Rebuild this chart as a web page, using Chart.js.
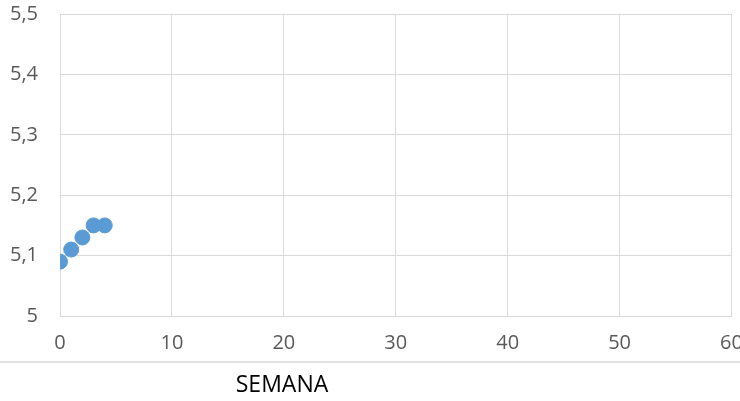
<!DOCTYPE html>
<html>
<head>
<meta charset="utf-8">
<script src="https://cdn.jsdelivr.net/npm/chart.js@4/dist/chart.umd.min.js"></script>
<style>
	html, body { margin: 0; padding: 0; background: #fff; }
	#wrap { width: 740px; height: 401px; position: relative; }
</style>
</head>
<body>
<div id="wrap"><canvas id="chart"></canvas></div>
<script>
const semanas = [0, 1, 2, 3, 4];
const valores = [5.09, 5.11, 5.13, 5.15, 5.15];
const xTicks = [0, 10, 20, 30, 40, 50, 60];
const yTicks = [5, 5.1, 5.2, 5.3, 5.4, 5.5];
const xLabel = "SEMANA";

const gridColor = "#D9D9D9";
const tickColor = "#595959";
const fontFamily = "'Open Sans', 'Liberation Sans', sans-serif";

// linea separadora y titulo del eje como en el original
const extras = {
	id: "extras",
	afterDraw(chart) {
		const ctx = chart.ctx;
		ctx.save();
		ctx.strokeStyle = gridColor;
		ctx.lineWidth = 1.5;
		ctx.beginPath();
		ctx.moveTo(0, 362);
		ctx.lineTo(740, 362);
		ctx.stroke();
		ctx.fillStyle = "#000";
		ctx.font = "23px " + fontFamily;
		ctx.textAlign = "center";
		ctx.textBaseline = "middle";
		ctx.fillText(xLabel, 282, 385);
		ctx.restore();
	}
};

new Chart(document.getElementById("chart"), {
	type: "scatter",
	data: {
		datasets: [{
			data: semanas.map((s, i) => ({ x: s, y: valores[i] })),
			backgroundColor: "#5B9BD5",
			borderColor: "#5B9BD5",
			pointRadius: 7.5,
			pointHoverRadius: 7.5
		}]
	},
	options: {
		responsive: true,
		maintainAspectRatio: false,
		animation: false,
		layout: { padding: { top: 14, right: 5, left: 0, bottom: 0 } },
		plugins: { legend: { display: false }, tooltip: { enabled: false } },
		scales: {
			x: {
				type: "linear",
				min: 0,
				max: 60,
				afterBuildTicks: scale => { scale.ticks = xTicks.map(v => ({ value: v })); },
				afterFit: scale => { scale.height = 85; scale.paddingRight = 0; scale.paddingLeft = 0; },
				grid: { color: gridColor, drawTicks: false },
				border: { color: gridColor },
				ticks: { color: tickColor, font: { size: 20, family: fontFamily }, padding: 15, maxRotation: 0 }
			},
			y: {
				min: 5,
				max: 5.5,
				afterBuildTicks: scale => { scale.ticks = yTicks.map(v => ({ value: v })); },
				afterFit: scale => { scale.width = 60; scale.paddingTop = 0; scale.paddingBottom = 0; },
				grid: { color: gridColor, drawTicks: false },
				border: { color: gridColor },
				ticks: {
					color: tickColor,
					font: { size: 20, family: fontFamily },
					padding: 22,
					callback: v => (v === 5 ? "5" : v.toFixed(1).replace(".", ","))
				}
			}
		}
	},
	plugins: [extras]
});
</script>
</body>
</html>
